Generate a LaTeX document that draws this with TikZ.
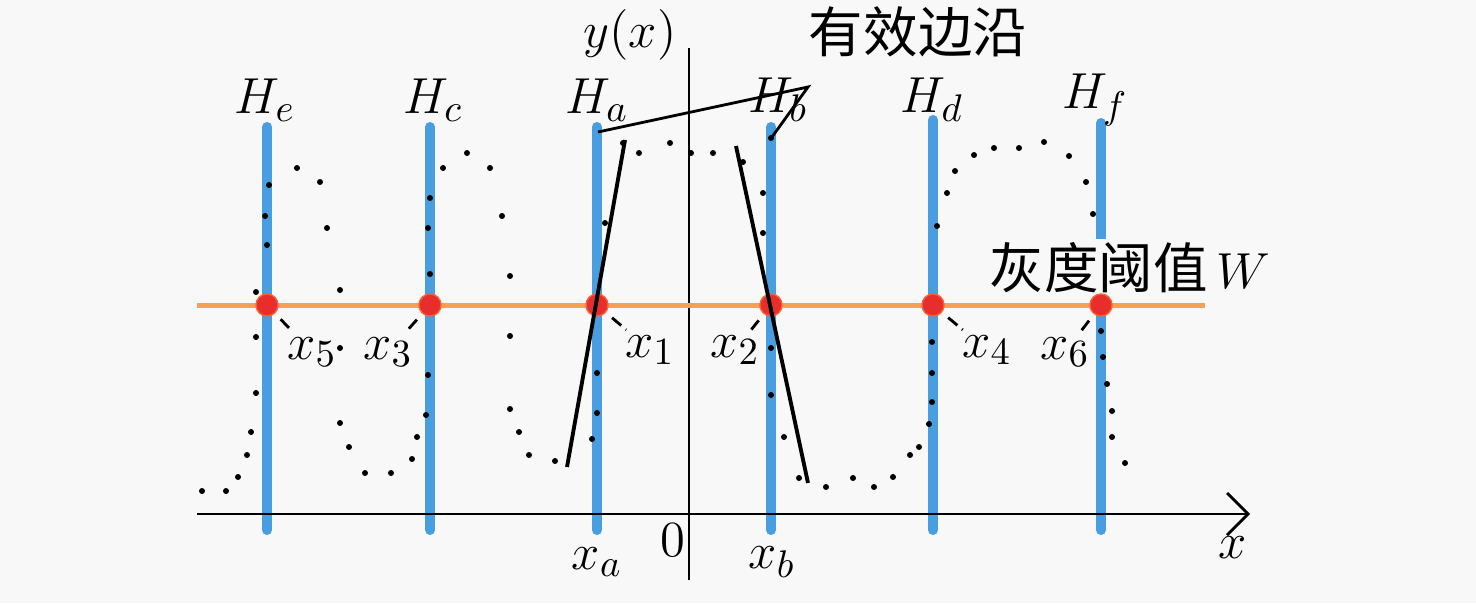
\documentclass[tikz,border=0pt]{standalone}
\usepackage{fontspec}
\newfontfamily\cjk{Noto Sans CJK SC}
\usetikzlibrary{arrows.meta}
\definecolor{barblue}{RGB}{72,158,222}
\definecolor{lineorange}{RGB}{245,160,85}
\definecolor{dotred}{RGB}{232,45,45}
\definecolor{paper}{RGB}{248,248,248}
\tikzset{
  bar/.style={barblue, line width=0.1cm, line cap=round},
  hit/.style={circle, fill=dotred, draw=lineorange!60!red, inner sep=0pt, minimum size=0.22cm},
  edgeline/.style={black, line width=1.1pt},
  leader/.style={black, line width=0.8pt},
  axis/.style={black, line width=0.8pt},
  lbl/.style={font=\fontsize{15.5}{18}\selectfont, inner sep=1pt},
}
\begin{document}
\begin{tikzpicture}[x=0.01cm, y=-0.01cm]
        \fill[paper] (0,0) rectangle (1476,603);
        \useasboundingbox (0,0) rectangle (1476,603);

        % vertical bars H
        \foreach \n/\x/\t/\hx in {e/267/127/265, c/430/127/433, a/597/127/597, b/771/127/778, d/933/120/932, f/1101/123/1095} {
            \coordinate (top\n) at (\x,\t);
            \coordinate (bot\n) at (\x,530);
            \draw[bar] (top\n) -- (bot\n);
            \node[lbl] (H\n) at (\hx,100) {$H_{\n}$};
        }

        % axes
        \coordinate (xstart) at (197,514);
        \coordinate (xend) at (1250,514);
        \coordinate (ybot) at (689,580);
        \coordinate (ytop) at (689,48);
        \draw[axis, -{Straight Barb[length=0.21cm,width=0.42cm]}] (xstart) -- (xend);
        \draw[axis] (ybot) -- (ytop);
        \node[lbl] (ylab) at (630,35) {$y(x)$};
        \node[lbl] (orig) at (673,540) {$0$};
        \node[lbl] (xlab) at (1233,548) {$x$};
        \node[lbl] (xa) at (597,562) {$x_a$};
        \node[lbl] (xb) at (772,562) {$x_b$};

        % threshold W
        \coordinate (wl) at (197,305);
        \coordinate (wr) at (1205,305);
        \draw[lineorange, line width=0.05cm] (wl) -- (wr);
        \node[lbl, fill=paper] (thr) at (1130,268) {{\cjk 灰度阈值}\,$W$};

        % crossing points
        \node[hit] (p5) at (267,305) {};
        \node[hit] (p3) at (430,305) {};
        \node[hit] (p1) at (597,305) {};
        \node[hit] (p2) at (771,305) {};
        \node[hit] (p4) at (933,305) {};
        \node[hit] (p6) at (1101,305) {};
        \node[lbl] (x5) at (312,352) {$x_5$};
        \node[lbl] (x3) at (388,352) {$x_3$};
        \node[lbl] (x1) at (650,350) {$x_1$};
        \node[lbl] (x2) at (735,350) {$x_2$};
        \node[lbl] (x4) at (987,350) {$x_4$};
        \node[lbl] (x6) at (1065,352) {$x_6$};
        \foreach \i in {1,...,6}
            \draw[leader, dashed, dash pattern=on 0.12cm off 0.06cm, shorten <=0.08cm, shorten >=0.02cm] (p\i) -- (x\i);

        % samples y(x)
        \foreach \px/\py in {202/491, 226/491, 238/477, 247/455, 251/432, 256/393, 256/337, 256/292,
            265/216, 267/245, 269/185, 297/168, 320/182, 327/228, 340/290, 340/348, 340/423, 349/447,
            365/473, 391/473, 412/459, 417/437, 426/415, 428/375, 430/274, 428/228, 430/198, 443/168,
            467/153, 490/168, 502/216, 510/276, 510/336, 510/409, 519/432, 529/455, 555/461,
            592/439, 597/413, 597/373, 605/223, 623/143, 639/153, 670/143, 691/153, 713/153, 743/162,
            771/138, 763/193, 763/233, 771/348, 771/395, 784/437, 799/478, 826/487, 853/478, 874/487,
            893/477, 910/455, 919/447, 929/424, 932/402, 932/373, 932/342, 937/226, 947/193, 955/171,
            974/155, 994/148, 1019/148, 1044/142, 1069/156, 1086/182, 1093/214, 1101/331, 1103/357,
            1107/384, 1112/411, 1112/437, 1125/463}
            \fill[black] (\px,\py) circle (0.03cm);

        % effective edges
        \coordinate (eL1) at (567,467);
        \coordinate (eL2) at (625,140);
        \coordinate (eR1) at (736,146);
        \coordinate (eR2) at (808,483);
        \draw[edgeline] (eL1) -- (eL2);
        \draw[edgeline] (eR1) -- (eR2);
        \node[lbl] (edge) at (918,32) {\cjk 有效边沿};
        \coordinate (ea) at (598,132);
        \coordinate (ek) at (808,87);
        \coordinate (eb) at (772,137);
        \draw[leader] (ea) -- (ek) -- (eb);
\end{tikzpicture}
\end{document}
